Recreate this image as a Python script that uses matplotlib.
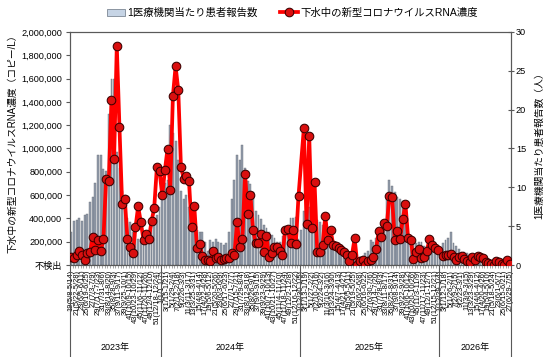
import numpy as np
import matplotlib
matplotlib.use('Agg')
import matplotlib.pyplot as plt
from matplotlib.patches import Patch
from matplotlib.lines import Line2D
from matplotlib.transforms import blended_transform_factory
import datetime as dt

plt.rcParams['font.family'] = ['Liberation Sans', 'Noto Sans CJK JP', 'DejaVu Sans']

# ---- categories (year, ISO week) ----
years = [2023] * 34 + [2024] * 52 + [2025] * 52 + [2026] * 27
weeks = list(range(19, 53)) + list(range(1, 53)) + list(range(1, 53)) + list(range(1, 28))

# ---- patients per sentinel (right axis) ----
patients = [
    4.2, 5.7, 5.8, 6.0, 5.7, 6.5, 6.6, 8.1, 8.7, 10.6,
    14.2, 14.2, 12.4, 12.1, 19.5, 23.9, 24.0, 14.5, 12.5, 9.5,
    9.0, 6.0, 5.5, 4.3, 3.8, 3.3, 3.1, 3.0, 3.5, 3.8,
    4.5, 5.5, 6.5, 7.5, 9.0, 10.5, 11.0, 18.0, 17.0, 16.0,
    13.5, 9.5, 8.5, 9.0, 7.5, 6.5, 5.5, 4.5, 4.3, 4.3,
    3.0, 1.8, 3.2, 3.0, 3.3, 3.0, 2.8, 2.6, 2.8, 4.3,
    8.5, 11.0, 14.2, 13.5, 15.4, 12.5, 10.8, 10.4, 9.4, 6.9,
    6.5, 5.9, 5.2, 4.8, 4.2, 3.9, 3.5, 3.0, 3.0, 3.7,
    4.0, 4.6, 6.0, 6.0, 6.2, 3.4, 4.5, 7.0, 7.1, 7.5,
    7.0, 6.5, 5.8, 5.5, 5.2, 5.0, 4.2, 4.0, 3.0, 3.0,
    2.8, 2.5, 2.0, 1.8, 1.5, 1.0, 0.8, 0.6, 1.0, 1.2,
    1.6, 1.8, 3.2, 3.0, 3.5, 4.2, 4.5, 5.8, 9.0, 11.0,
    10.2, 9.4, 8.8, 8.5, 8.3, 7.3, 3.8, 3.5, 3.0, 2.8,
    3.0, 2.9, 2.5, 2.4, 2.2, 2.0, 1.8, 1.8, 2.2, 2.8,
    3.2, 3.5, 4.2, 2.8, 2.4, 2.0, 1.7, 1.7, 1.5, 1.4,
    1.2, 1.0, 0.9, 0.8, 0.6, 0.6, 0.5, 0.4, 0.4, 0.3,
    0.3, 0.2, 0.2, 0.1, 0.1,
]

# ---- sewage RNA concentration, copies/L (left axis); nan = not sampled ----
nan = float('nan')
rna = [
    70000, 60000, 90000, 123000, 88000, 45000, 105000, 112000, 240000, 130000,
    213000, 116000, 220000, 740000, 718000, 1414000, 910000, 1883000, 1182000, 526000,
    564000, 220000, 157000, 100000, 323000, 504000, 366000, 215000, 266000, 226000,
    375000, 489000, 838000, 804000, 598000, 815000, 999000, 647000, 1453000, 1705000,
    1505000, 845000, 741000, 761000, 724000, 326000, 504000, 148000, 183000, 75000,
    40000, 40000, 37000, 120000, 60000, 66000, 40000, 51000, 60000, 60000,
    103000, 86000, 366000, 155000, 220000, 784000, 441000, 598000, 298000, 189000,
    189000, 269000, 109000, 246000, 66000, 103000, 152000, 155000, 123000, 88000,
    300000, 309000, 190000, 298000, 183000, 595000, nan, 1176000, 355000, 1110000,
    315000, 712000, 112000, 112000, 172000, 418000, 212000, 300000, 169000, 166000,
    146000, 126000, 109000, 86000, 37000, 88000, 229000, 3000, 37000, 40000,
    3000, 32000, 40000, 66000, 135000, 289000, 240000, 360000, 337000, 595000,
    581000, 217000, 295000, 226000, 395000, 524000, 232000, 215000, 51000, 112000,
    137000, 60000, 66000, 117000, 223000, 169000, 146000, 126000, nan, 80000,
    88000, 88000, 97000, 66000, 46000, 66000, 75000, 51000, 32000, 30000,
    66000, 40000, 75000, 66000, 60000, 26000, 17000, 9000, 0, 32000,
    23000, 9000, 3000, 40000, 9000,
]

left_ticks = [0, 200000, 400000, 600000, 800000, 1000000, 1200000, 1400000,
              1600000, 1800000, 2000000]
left_labels = ['不検出', '200,000', '400,000', '600,000', '800,000', '1,000,000',
               '1,200,000', '1,400,000', '1,600,000', '1,800,000', '2,000,000']
right_ticks = [0, 5, 10, 15, 20, 25, 30]
year_names = [2023, 2024, 2025, 2026]
year_labels = ['2023年', '2024年', '2025年', '2026年']

left_ylabel = '下水中の新型コロナウイルスRNA濃度（コピー/L）'
right_ylabel = '1医療機関当たり患者報告数（人）'
bar_label = '1医療機関当たり患者報告数'
line_label = '下水中の新型コロナウイルスRNA濃度'

# ---- week tick labels (odd weeks) ----
def week_label(y, w):
    mon = dt.date.fromisocalendar(y, w, 1)
    sun = dt.date.fromisocalendar(y, w, 7)
    return f"{w}({mon.month}/{mon.day}-{sun.month}/{sun.day})"

n = len(weeks)
x = np.arange(n)
tick_pos = [i for i in range(n) if weeks[i] % 2 == 1]
tick_lab = [week_label(years[i], weeks[i]) for i in tick_pos]

# ---- figure ----
fig = plt.figure(figsize=(5.5, 3.57), dpi=100)
ax = fig.add_axes([0.1273, 0.2577, 0.8018, 0.6527])
ax2 = ax.twinx()

bar_c = '#939cab'
ax2.bar(x, patients, width=0.7, color=bar_c, edgecolor='#6a717b', linewidth=0.3)
ax2.set_ylim(0, 30)
ax2.set_yticks(right_ticks)

r = np.array(rna, dtype=float)
m = ~np.isnan(r)
ax.plot(x[m], r[m], color='#ff0000', lw=2.7, marker='o', ms=6.2,
        mfc='#d90f0f', mec='#3a0000', mew=0.75, zorder=5)
ax.set_zorder(ax2.get_zorder() + 1)
ax.patch.set_visible(False)

ax.set_xlim(-0.5, n - 0.5)
ax.set_ylim(0, 2000000)
ax.set_yticks(left_ticks)
ax.set_yticklabels(left_labels)

ax.set_xticks(tick_pos)
ax.set_xticklabels(tick_lab, rotation=90, fontsize=5.4, va='top', ha='center')
ax.set_xticks(np.arange(n + 1) - 0.5, minor=True)
ax.tick_params(axis='x', which='major', length=0, pad=3.5)
ax.tick_params(axis='x', which='minor', length=2.5, width=0.4, color='#666666')

spc = '#595959'
for a in (ax, ax2):
    for s in a.spines.values():
        s.set_color(spc)
        s.set_linewidth(0.8)
ax.tick_params(axis='y', labelsize=6.6, length=3, width=0.8, color=spc, pad=2.5)
ax2.tick_params(axis='y', labelsize=6.6, length=4, width=0.8, color=spc, pad=1.5,
                direction='inout')

# year separators and labels
tr = blended_transform_factory(ax.transData, ax.transAxes)
bounds = [-0.5]
for yv in year_names:
    idx = [i for i in range(n) if years[i] == yv]
    bounds.append(idx[-1] + 0.5)
for b in bounds:
    ax.plot([b, b], [0, -0.40], transform=tr, color=spc, lw=0.8, clip_on=False)
for k, yv in enumerate(year_names):
    ax.text((bounds[k] + bounds[k + 1]) / 2, -0.356, year_labels[k], transform=tr,
            ha='center', va='center', fontsize=6.5)

# axis titles
fig.text(0.022, 0.605, left_ylabel, rotation=90, ha='center', va='center', fontsize=7)
fig.text(0.980, 0.600, right_ylabel, rotation=90, ha='center', va='center', fontsize=7)

# legend
h1 = Patch(facecolor='#c6d4e5', edgecolor='#7d8794', linewidth=0.6)
h2 = Line2D([], [], color='#ff0000', lw=2.7, marker='o', ms=6.2,
            mfc='#d90f0f', mec='#3a0000', mew=0.75)
fig.legend([h1, h2], [bar_label, line_label], ncol=2, loc='center',
           bbox_to_anchor=(0.532, 0.964), frameon=False, fontsize=7.5,
           handlelength=1.7, handletextpad=0.2, columnspacing=2.2)

fig.savefig('out.png', dpi=100)
